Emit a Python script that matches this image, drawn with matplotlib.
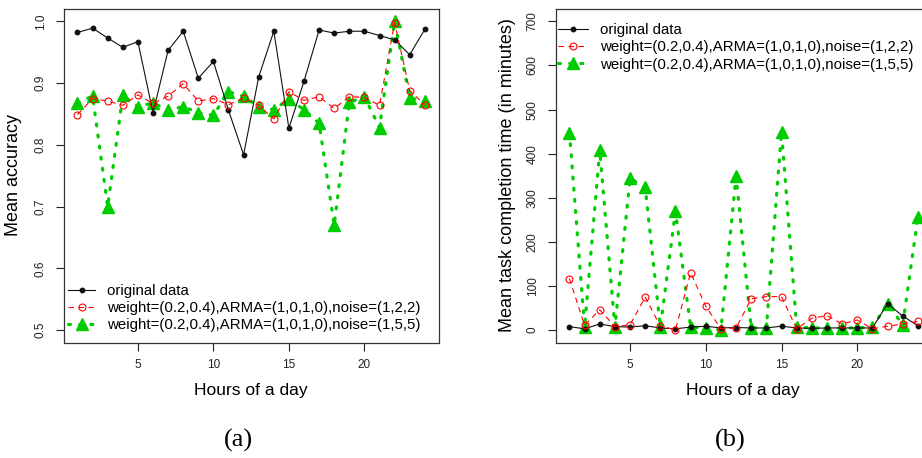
import matplotlib
matplotlib.use("Agg")
import matplotlib.pyplot as plt

plt.rcParams['font.family'] = ['Liberation Sans', 'DejaVu Sans']

hours = list(range(1, 25))

# (a) Mean accuracy
acc_original = [0.982, 0.989, 0.973, 0.958, 0.967, 0.852, 0.953, 0.984, 0.908, 0.935,
                0.856, 0.784, 0.910, 0.984, 0.827, 0.903, 0.986, 0.981, 0.984, 0.984,
                0.977, 0.970, 0.946, 0.987]
acc_noise122 = [0.849, 0.875, 0.871, 0.864, 0.881, 0.867, 0.879, 0.899, 0.871, 0.875,
                0.865, 0.876, 0.864, 0.842, 0.886, 0.872, 0.878, 0.859, 0.878, 0.877,
                0.864, 0.998, 0.888, 0.865]
acc_noise155 = [0.868, 0.879, 0.700, 0.880, 0.862, 0.868, 0.856, 0.862, 0.852, 0.848,
                0.886, 0.879, 0.862, 0.857, 0.874, 0.857, 0.835, 0.670, 0.869, 0.878,
                0.828, 1.000, 0.876, 0.871]

# (b) Mean task completion time (minutes)
time_original = [8, 3, 14, 8, 7, 10, 5, 3, 7, 9, 5, 6, 5, 5, 9, 5, 4, 5, 5, 5,
                 5, 60, 32, 10]
time_noise122 = [117, 11, 46, 8, 12, 75, 9, 1, 130, 54, 3, 5, 71, 76, 76, 3,
                 27, 33, 14, 23, 3, 9, 14, 20]
time_noise155 = [448, 7, 408, 7, 344, 324, 7, 269, 7, 5, 1, 349, 5, 5, 450, 7,
                 5, 5, 5, 5, 7, 60, 12, 256]

labels = ["original data",
          "weight=(0.2,0.4),ARMA=(1,0,1,0),noise=(1,2,2)",
          "weight=(0.2,0.4),ARMA=(1,0,1,0),noise=(1,5,5)"]
xticks = [5, 10, 15, 20]
yticks_a = [0.5, 0.6, 0.7, 0.8, 0.9, 1.0]
yticks_b = [0, 100, 200, 300, 400, 500, 600, 700]

GREEN = '#00CD00'
RED = '#FF0000'
BLACK = '#111111'
W, H = 922, 458

fig = plt.figure(figsize=(W / 100, H / 100), dpi=100)


def px_axes(x0, x1, y0, y1):
    return fig.add_axes([x0 / W, 1 - y1 / H, (x1 - x0) / W, (y1 - y0) / H])


def draw(ax, y_orig, y_red, y_green, ylim, yticks, ylabels):
    g, = ax.plot(hours, y_green, color=GREEN, lw=2.3, linestyle=(0, (0.6, 2.9)),
                 dash_capstyle='round', marker='^', ms=8.5, mfc=GREEN, mec=GREEN, zorder=2)
    k, = ax.plot(hours, y_orig, color=BLACK, lw=0.8, marker='o', ms=3.2,
                 mfc=BLACK, mec=BLACK, zorder=3)
    r, = ax.plot(hours, y_red, color=RED, lw=0.8, linestyle=(0, (5, 4)),
                 marker='o', ms=5, mfc='none', mec=RED, mew=0.8, zorder=4)
    ax.set_xlim(0.08, 24.92)
    ax.set_ylim(*ylim)
    ax.set_xticks(xticks)
    ax.set_xticklabels([str(t) for t in xticks], fontsize=8.5)
    ax.set_yticks(yticks)
    ax.set_yticklabels(ylabels, fontsize=8.5, rotation=90, va='center')
    ax.tick_params(axis='both', direction='out', length=6, width=0.8, colors='#222222')
    ax.tick_params(axis='x', pad=6)
    ax.tick_params(axis='y', pad=6)
    for s in ax.spines.values():
        s.set_color('#333333')
        s.set_linewidth(0.9)
    return k, r, g


axa = px_axes(63.6, 438.7, 9, 342.5)
handles = draw(axa, acc_original, acc_noise122, acc_noise155, (0.48, 1.02), yticks_a,
               ["0.5", "0.6", "0.7", "0.8", "0.9", "1.0"])
axa.legend(handles, labels, loc='lower left', bbox_to_anchor=(0.011, 0.03),
           frameon=False, fontsize=10.8, handlelength=1.85, handletextpad=0.8,
           labelspacing=0.22, borderpad=0, borderaxespad=0, numpoints=1)

axb = px_axes(555.5, 931.8, 9, 342.5)
handles_b = draw(axb, time_original, time_noise122, time_noise155, (-28, 728), yticks_b,
                 [str(t) for t in yticks_b])
axb.legend(handles_b, labels, loc='upper left', bbox_to_anchor=(0.007, 0.958),
           frameon=False, fontsize=10.8, handlelength=2.0, handletextpad=0.8,
           labelspacing=0.22, borderpad=0, borderaxespad=0, numpoints=1)

# axis titles
fig.text(14 / W, 1 - 175 / H, "Mean accuracy", rotation=90, ha='center', va='center',
         fontsize=13)
fig.text(507 / W, 1 - 175 / H, "Mean task completion time (in minutes)", rotation=90,
         ha='center', va='center', fontsize=13)
fig.text(251 / W, 1 - 390 / H, "Hours of a day", ha='center', va='center', fontsize=12.5)
fig.text(743 / W, 1 - 390 / H, "Hours of a day", ha='center', va='center', fontsize=12.5)

fig.text(238 / W, 1 - 440 / H, "(a)", ha='center', va='center', fontsize=19,
         family='Liberation Serif')
fig.text(730 / W, 1 - 440 / H, "(b)", ha='center', va='center', fontsize=19,
         family='Liberation Serif')

fig.savefig("out.png", dpi=100)
